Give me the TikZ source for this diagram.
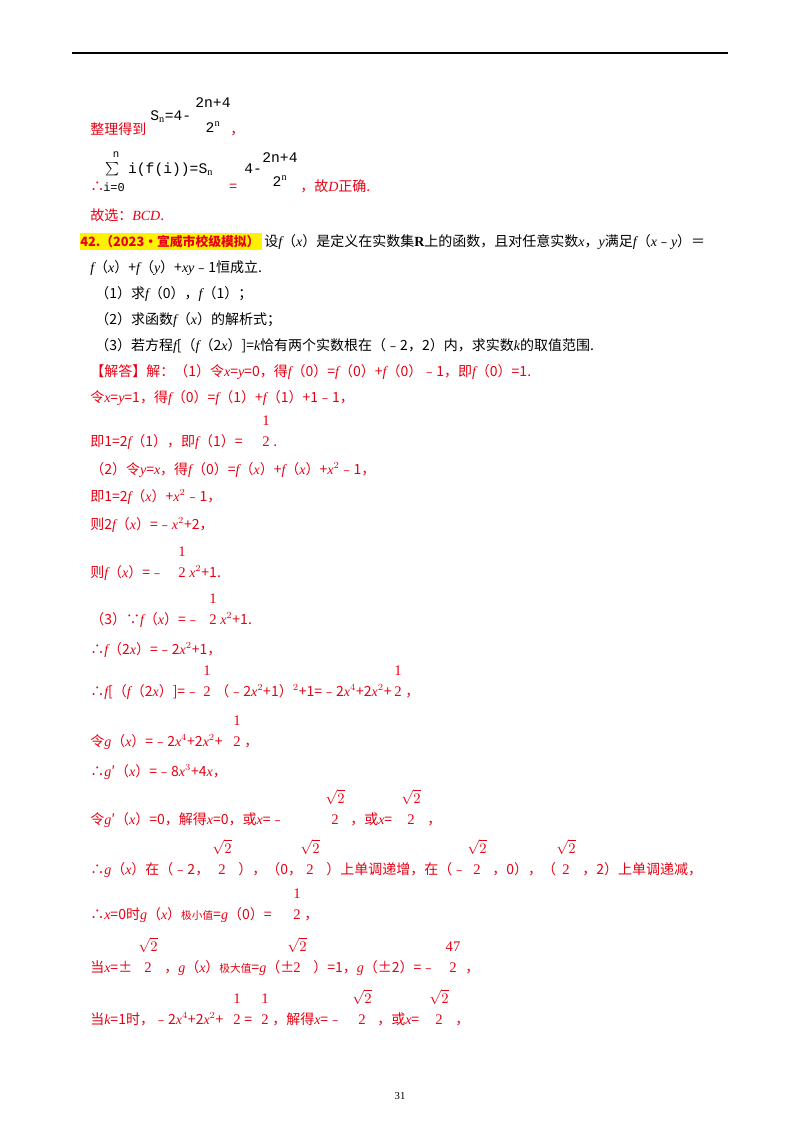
\documentclass[tikz,border=0pt]{standalone}
\usepackage{fontspec}
\setmainfont{Liberation Serif}
\newfontfamily\cjk{Noto Sans CJK SC}
\newfontfamily\mono{Liberation Mono}
\definecolor{ansred}{RGB}{230,0,18}
\newcommand\m[1]{{\rmfamily\itshape #1}}
\newcommand\tb[1]{{\rmfamily\bfseries #1}}
\tikzset{tx/.style={anchor=base west,inner sep=0pt,font=\fontsize{10.5pt}{12pt}\selectfont\cjk},
 rd/.style={tx,text=ansred},bk/.style={tx,text=black},
 fr/.style={anchor=base,inner sep=0pt,font=\fontsize{11pt}{12pt}\selectfont\rmfamily,text=ansred},
 mn/.style={font=\fontsize{11pt}{12pt}\selectfont\mono}}
\newcommand\T[4][rd]{\node[#1] at (#2,#3) {#4};}
\newcommand\F[5][ansred]{\node[fr,text=#1] at (#2,#3-19) {#4};\node[fr,text=#1] at (#2,#3+2) {#5};}
\begin{document}
\begin{tikzpicture}[x=0.75pt,y=-0.75pt]
\useasboundingbox (0,0) rectangle (800,1132);
\draw[line width=0.8pt] (72,53) -- (728,53);
% S_n line
\node[bk,mn] at (150,120) {S$_{\mathrm n}$=4-};
\node[fr,text=black,mn] at (213,107) {2n+4};
\node[fr,text=black,mn] at (213,132) {2$^{\mathrm n}$};
\T{90}{134}{整理得到}
\T{230}{134}{，}
% sum line
\node[fr,text=black,font=\fontsize{8pt}{10pt}\selectfont\mono] at (116,157) {n};
\node[bk,mn] at (105,173) {$\sum$ i(f(i))=S$_{\mathrm n}$};
\node[rd] at (90,191) {∴};
\node[bk,font=\fontsize{9pt}{10pt}\selectfont\mono] at (103,191) {i=0};
\node[bk,mn] at (244,173) {4-};
\node[fr,text=black,mn] at (280,162) {2n+4};
\node[fr,text=black,mn] at (280,186) {2$^{\mathrm n}$};
\T{229}{191}{=}
\T{300}{191}{，故\m{D}正确.}
\T{90}{220}{故选：\m{BCD}.}
% problem 42
\fill[yellow] (80,233) rectangle (262,250);
\node[rd,font=\fontsize{9.6pt}{12pt}\selectfont\cjk\bfseries] at (80,246) {42.（2023•宣威市校级模拟）};
\T[bk]{264}{246}{设\m{f}（\m{x}）是定义在实数集\tb{R}上的函数，且对任意实数\m{x}，\m{y}满足\m{f}（\m{x}﹣\m{y}）＝}
\T[bk]{90}{272}{\m{f}（\m{x}）+\m{f}（\m{y}）+\m{xy}﹣1恒成立.}
\T[bk]{95}{298}{（1）求\m{f}（0），\m{f}（1）；}
\T[bk]{95}{324}{（2）求函数\m{f}（\m{x}）的解析式；}
\T[bk]{95}{350}{（3）若方程\m{f}[（\m{f}（2\m{x}）]=\m{k}恰有两个实数根在（﹣2，2）内，求实数\m{k}的取值范围.}
\T{90}{376}{【解答】解：（1）令\m{x}=\m{y}=0，得\m{f}（0）=\m{f}（0）+\m{f}（0）﹣1，即\m{f}（0）=1.}
\T{90}{402}{令\m{x}=\m{y}=1，得\m{f}（0）=\m{f}（1）+\m{f}（1）+1﹣1，}
\T{90}{446}{即1=2\m{f}（1），即\m{f}（1）=}\F{266}{444}{1}{2}\T{273}{446}{.}
\T{90}{474}{（2）令\m{y}=\m{x}，得\m{f}（0）=\m{f}（\m{x}）+\m{f}（\m{x}）+\m{x}$^2$﹣1，}
\T{90}{501}{即1=2\m{f}（\m{x}）+\m{x}$^2$﹣1，}
\T{90}{529}{则2\m{f}（\m{x}）=﹣\m{x}$^2$+2，}
\T{90}{577}{则\m{f}（\m{x}）=﹣}\F{182}{575}{1}{2}\T{189}{577}{\m{x}$^2$+1.}
\T{90}{624}{（3）∵\m{f}（\m{x}）=﹣}\F{213}{622}{1}{2}\T{220}{624}{\m{x}$^2$+1.}
\T{90}{654}{∴\m{f}（2\m{x}）=﹣2\m{x}$^2$+1，}
\T{90}{696}{∴\m{f}[（\m{f}（2\m{x}）]=﹣}\F{207}{694}{1}{2}\T{215}{696}{（﹣2\m{x}$^2$+1）$^2$+1=﹣2\m{x}$^4$+2\m{x}$^2$+}\F{398}{694}{1}{2}\T{405}{696}{，}
\T{90}{746}{令\m{g}（\m{x}）=﹣2\m{x}$^4$+2\m{x}$^2$+}\F{237}{744}{1}{2}\T{244}{746}{，}
\T{90}{776}{∴\m{g}′（\m{x}）=﹣8\m{x}$^3$+4\m{x}，}
\T{90}{824}{令\m{g}′（\m{x}）=0，解得\m{x}=0，或\m{x}=﹣}\F{335}{822}{$\sqrt{2}$}{2}\T{350}{824}{，或\m{x}=}\F{411}{822}{$\sqrt{2}$}{2}\T{427}{824}{，}
\T{90}{874}{∴\m{g}（\m{x}）在（﹣2，}\F{222}{872}{$\sqrt{2}$}{2}\T{238}{874}{），（0，}\F{310}{872}{$\sqrt{2}$}{2}\T{326}{874}{）上单调递增，在（﹣}\F{477}{872}{$\sqrt{2}$}{2}\T{492}{874}{，0），（}\F{566}{872}{$\sqrt{2}$}{2}\T{582}{874}{，2）上单调递减，}
\T{90}{919}{∴\m{x}=0时\m{g}（\m{x}）{\fontsize{8pt}{9pt}\selectfont 极小值}=\m{g}（0）=}\F{297}{917}{1}{2}\T{304}{919}{，}
\T{90}{972}{当\m{x}=±}\F{148}{970}{$\sqrt{2}$}{2}\T{164}{972}{，\m{g}（\m{x}）{\fontsize{8pt}{9pt}\selectfont 极大值}=\m{g}（±}\F{297}{970}{$\sqrt{2}$}{2}\T{313}{972}{）=1，\m{g}（±2）=﹣}\F{453}{970}{47}{2}\T{465}{972}{，}
\T{90}{1024}{当\m{k}=1时，﹣2\m{x}$^4$+2\m{x}$^2$+}\F{237}{1022}{1}{2}\T{244}{1024}{=}\F{265}{1022}{1}{2}\T{272}{1024}{，解得\m{x}=﹣}\F{362}{1022}{$\sqrt{2}$}{2}\T{377}{1024}{，或\m{x}=}\F{439}{1022}{$\sqrt{2}$}{2}\T{455}{1024}{，}
\node[anchor=base,font=\fontsize{8pt}{9pt}\selectfont] at (400,1099) {31};
\end{tikzpicture}
\end{document}
